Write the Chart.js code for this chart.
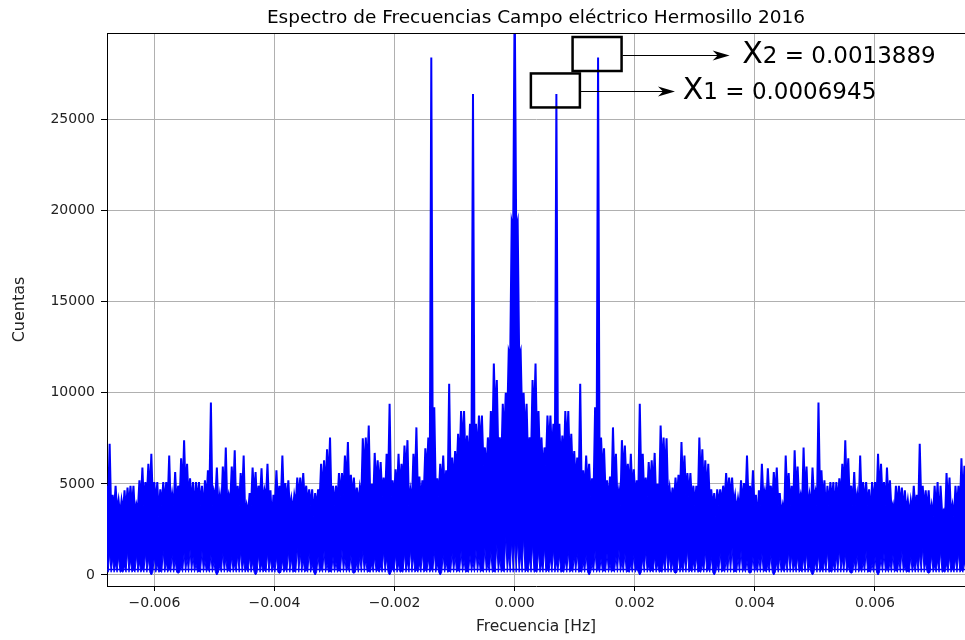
<!DOCTYPE html>
<html>
<head>
<meta charset="utf-8">
<script src="https://cdn.jsdelivr.net/npm/chart.js@4.4.0/dist/chart.umd.min.js"></script>
<style>
html,body{margin:0;padding:0;background:#ffffff;}
#wrap{width:965px;height:640px;position:relative;}
</style>
</head>
<body>
<div id="wrap"><canvas id="c" width="965" height="640"></canvas></div>
<script>
// ---------------- DATA ----------------
// Frequency spacing between plotted bins (Hz). Bin 14 = 0.0006945 Hz, bin 28 = 0.0013889 Hz.
const binWidth = 1 / 20160;

// Spectrum peak counts at bins 0,1,2,... (positive frequencies; the magnitude
// spectrum of a real signal is mirrored on the negative side)
const peakCounts = [
  32000, 19400, 12300, 10000, 9400, 7550, 10700, 11600, 9000, 7550,
  7000, 8750, 8750, 8300, 26400, 8300, 7650, 9000, 9000, 7750,
  6800, 6450, 10500, 5750, 6550, 6100, 5300, 9200, 28400, 7550,
  6950, 5200, 5400, 8100, 6650, 4650, 7400, 7100, 6100, 6650,
  5800, 5200, 9400, 6650, 5350, 6200, 6300, 6700, 5000, 8200,
  7550, 7500, 4800, 4800, 5350, 5500, 7300, 6550, 5600, 5600,
  4900, 4900, 7550, 6900, 6300, 6100, 4700, 4500, 4700, 4700,
  4900, 5600, 5350, 5350, 4400, 4200, 5200, 5050, 6550, 4900,
  5750, 4400, 4650, 6100, 4650, 5850, 4900, 5650, 5900, 4500,
  3850, 6550, 5600, 4900, 6850, 5950, 4400, 7000, 5950, 4400,
  5900, 4600, 9460, 5750, 5200, 4900, 5100, 5100, 5100, 5300,
  6100, 7400, 6400, 4900, 5650, 4450, 6550, 5100, 5100, 4700,
  5100, 5100, 6650, 6100, 5100, 5900, 5200, 3900, 4900, 4900,
  4800, 4650, 4100, 4100, 4900, 4400, 7200, 4900, 4650, 4650,
  3850, 4900, 5100, 4900, 3550, 5600, 5350, 3850, 4900, 4900,
  6400, 6000, 4500
];

// Counts in the dips between bin k and bin k+1 (top of the dense band)
const valleyCounts = [
  19000, 12000, 8500, 7500, 6000, 6500, 8500, 7000, 6000, 5500,
  6000, 7000, 6500, 6500, 7000, 6000, 6000, 7000, 6000, 5500,
  5000, 4800, 4500, 4500, 4800, 4300, 4500, 6000, 5800, 5500,
  4500, 4000, 4300, 5000, 4000, 3800, 5500, 5000, 4600, 4500,
  4200, 4300, 5000, 4200, 4300, 4700, 4800, 4000, 4200, 5800,
  5500, 4200, 3900, 4000, 4200, 4200, 4800, 4400, 4300, 4000,
  3800, 3900, 5000, 4600, 4500, 4000, 3700, 3200, 3800, 3900,
  4000, 4200, 4200, 3900, 3500, 3600, 3900, 4000, 4100, 3900,
  3800, 2850, 3800, 4200, 3900, 4200, 3900, 4300, 3800, 3400,
  3300, 4300, 3800, 3500, 4400, 4000, 3700, 4200, 3600, 3700,
  4200, 3800, 4500, 4000, 3400, 3800, 4000, 3500, 3900, 4100,
  4500, 4500, 4000, 3800, 3800, 3600, 4000, 3900, 3800, 3200,
  3900, 4000, 4300, 4200, 3800, 4000, 3600, 3300, 3700, 3800,
  3500, 3500, 3300, 3500, 3600, 3500, 4000, 3600, 3500, 3300,
  3200, 3500, 2850, 3400, 3000, 3800, 3300, 3200, 3600, 3500,
  4000, 3800
];

// Highest "floor" reached around each bin (tips of the white notches at the bottom)
const floorCounts = [
  2000, 1900, 1100, 2100, 300, 900, 1700, 200, 1300, 600,
  1500, 300, 900, 1400, 700, 1100, 200, 800, 1300, 300,
  1000, 1200, 200, 700, 1100, 0, 600, 1300, 400, 900,
  300, 1200, 600, 300, 1000, 1400, 700, 1200, 200, 600,
  1100, 400, 0, 900, 1300, 500, 300, 1000, 600, 200,
  800, 1300, 1000, 700, 100, 1100, 500, 900, 1400, 300,
  700, 1000, 200, 600, 1300, 400, 1000, 0, 600, 1200,
  300, 800, 1200, 1500, 200, 900, 1300, 400, 800, 100,
  1000, 500, 900, 1200, 300, 600, 1100, 0, 700, 1000,
  400, 800, 1300, 1100, 600, 1000, 300, 900, 1200, 500,
  0, 700, 1100, 400, 800, 1300, 200, 600, 1000, 1400,
  900, 1200, 500, 100, 800, 1100, 400, 700, 1300, 200,
  600, 1000, 0, 900, 1200, 400, 700, 1100, 300, 800,
  1300, 500, 200, 1000, 600, 900, 1200, 1500, 700, 100,
  1100, 500, 800, 1300, 200, 600, 1000, 400, 900, 1200,
  300, 700, 1000
];

// Lowest counts reached between neighbouring bins
const troughCount = 150;

// Level of the line that joins the last positive bin back to the first negative bin
const wrapCount = 300;

const xTickValues = [-0.006, -0.004, -0.002, 0.000, 0.002, 0.004, 0.006];
const yTickValues = [0, 5000, 10000, 15000, 20000, 25000];

const titleText = 'Espectro de Frecuencias Campo eléctrico Hermosillo 2016';
const xLabel = 'Frecuencia [Hz]';
const yLabel = 'Cuentas';

// Marked harmonics: bin, label index, value text, where the arrow ends and the text starts (Hz)
const markedPeaks = [
  { bin: 14, sub: '1', value: '0.0006945', arrowEnd: 0.00267, textStart: 0.00280 },
  { bin: 28, sub: '2', value: '0.0013889', arrowEnd: 0.00358, textStart: 0.00379 }
];

// ---------------- BUILD SERIES ----------------
const N = peakCounts.length;
const upper = [];
for (let k = N - 1; k >= 1; k--) {
  upper.push({ x: -k * binWidth, y: peakCounts[k] });
  upper.push({ x: -(k - 0.5) * binWidth, y: valleyCounts[k - 1] });
}
upper.push({ x: 0, y: peakCounts[0] });
for (let k = 0; k < N - 1; k++) {
  upper.push({ x: (k + 0.5) * binWidth, y: valleyCounts[k] });
  upper.push({ x: (k + 1) * binWidth, y: peakCounts[k + 1] });
}
const lower = [];
for (let k = N - 1; k >= 1; k--) {
  lower.push({ x: -k * binWidth, y: floorCounts[k] });
  lower.push({ x: -(k - 0.5) * binWidth, y: troughCount });
}
lower.push({ x: 0, y: floorCounts[0] });
for (let k = 0; k < N - 1; k++) {
  lower.push({ x: (k + 0.5) * binWidth, y: troughCount });
  lower.push({ x: (k + 1) * binWidth, y: floorCounts[k + 1] });
}
const wrap = [
  { x: (N - 1) * binWidth, y: wrapCount },
  { x: -(N - 1) * binWidth, y: wrapCount }
];

const BLUE = '#0000ff';
const FONT = "'DejaVu Sans', 'Liberation Sans', sans-serif";

function fmtX(v) {
  if (Math.abs(v) < 1e-12) return '0.000';
  return (v < 0 ? '\u2212' : '') + Math.abs(v).toFixed(3);
}

const overlay = {
  id: 'overlay',
  afterDraw(chart) {
    const { ctx, chartArea: a, scales: { x, y } } = chart;
    ctx.save();
    // top spine
    ctx.strokeStyle = '#000';
    ctx.lineWidth = 1;
    ctx.beginPath();
    ctx.moveTo(a.left, a.top + 0.5);
    ctx.lineTo(a.right, a.top + 0.5);
    ctx.stroke();
    // annotations
    markedPeaks.forEach(m => {
      const px = x.getPixelForValue(m.bin * binWidth);
      const py = y.getPixelForValue(peakCounts[m.bin]);
      const bw = 49, bh = 34;
      const bx = px - bw / 2 - 1, by = py - bh / 2 - 3.5;
      ctx.strokeStyle = '#000';
      ctx.lineWidth = 2.5;
      ctx.strokeRect(bx, by, bw, bh);
      const ay = Math.round(by + bh / 2) + 1.5;
      const tip = x.getPixelForValue(m.arrowEnd);
      ctx.lineWidth = 1;
      ctx.beginPath();
      ctx.moveTo(bx + bw + 1, ay);
      ctx.lineTo(tip - 8, ay);
      ctx.stroke();
      ctx.fillStyle = '#000';
      ctx.beginPath();
      ctx.moveTo(tip, ay);
      ctx.lineTo(tip - 17, ay - 5);
      ctx.lineTo(tip - 12, ay);
      ctx.lineTo(tip - 17, ay + 5);
      ctx.closePath();
      ctx.fill();
      const tx = x.getPixelForValue(m.textStart);
      const base = ay + 7;
      ctx.textBaseline = 'alphabetic';
      ctx.textAlign = 'left';
      ctx.font = '30px ' + FONT;
      ctx.fillText('X', tx, base);
      const w = ctx.measureText('X').width;
      ctx.font = '23px ' + FONT;
      ctx.fillText(m.sub + ' = ' + m.value, tx + w, base);
    });
    ctx.restore();
  }
};

new Chart(document.getElementById('c'), {
  type: 'line',
  data: {
    datasets: [
      { data: wrap, borderColor: BLUE, borderWidth: 1.5, fill: false, pointRadius: 0 },
      { data: upper, borderColor: BLUE, backgroundColor: BLUE, borderWidth: 2, fill: '+1', pointRadius: 0 },
      { data: lower, borderColor: BLUE, borderWidth: 1, fill: false, pointRadius: 0 }
    ]
  },
  options: {
    responsive: false,
    animation: false,
    devicePixelRatio: 1,
    layout: { padding: 0 },
    elements: { line: { tension: 0 }, point: { radius: 0 } },
    plugins: {
      legend: { display: false },
      tooltip: { enabled: false },
      title: {
        display: true,
        text: titleText,
        fullSize: false,
        color: '#000',
        font: { family: FONT, size: 18.5, weight: 'normal' },
        padding: { top: 7, bottom: 3.8 }
      }
    },
    scales: {
      x: {
        type: 'linear',
        min: -0.00679,
        max: 0.0075,
        afterBuildTicks: s => { s.ticks = xTickValues.map(v => ({ value: v })); },
        afterFit: s => { s.height = 54; },
        ticks: { callback: v => fmtX(v), color: '#222', font: { family: FONT, size: 14 }, padding: 4, maxRotation: 0, autoSkip: false },
        grid: { color: '#b0b0b0', lineWidth: 1, tickLength: 5, tickColor: '#000', drawTicks: true },
        border: { display: true, color: '#000', width: 1 },
        title: { display: true, text: xLabel, color: '#222', font: { family: FONT, size: 15.5 }, padding: { top: 0, bottom: 3.7 } }
      },
      y: {
        type: 'linear',
        min: -604,
        max: 29745,
        afterBuildTicks: s => { s.ticks = yTickValues.map(v => ({ value: v })); },
        afterFit: s => { s.width = 107; },
        ticks: { callback: v => String(v), color: '#222', font: { family: FONT, size: 14 }, padding: 6, autoSkip: false },
        grid: { color: '#b0b0b0', lineWidth: 1, tickLength: 6, tickColor: '#000', drawTicks: true },
        border: { display: true, color: '#000', width: 1 },
        title: { display: true, text: yLabel, color: '#222', font: { family: FONT, size: 16 }, padding: { top: 10, bottom: 0 } }
      }
    }
  },
  plugins: [overlay]
});
</script>
</body>
</html>
